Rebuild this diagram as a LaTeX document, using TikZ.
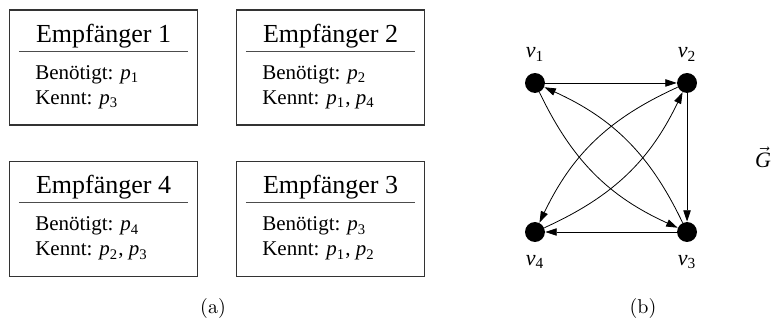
\documentclass[tikz,border=0pt]{standalone}
\usepackage{fontspec}
\usepackage{tikz}
\usetikzlibrary{arrows.meta,positioning}
\newfontfamily\tms{Liberation Serif}
\newcommand{\pidx}[1]{\textit{p}\textsubscript{#1}}
\newcommand{\vidx}[1]{\textit{v}\textsubscript{#1}}
\tikzset{
  rbox/.style={draw=black!80,line width=0.6pt,minimum width=3.304cm,minimum height=2.021cm,inner sep=0pt},
  rtitle/.style={font=\tms\fontsize{13}{15}\selectfont,inner sep=0pt,anchor=base},
  rtext/.style={font=\tms\fontsize{10.5}{12}\selectfont,inner sep=0pt,anchor=base west},
  rrule/.style={draw=black!70,line width=0.5pt},
  vtx/.style={circle,fill=black,minimum size=0.35cm,inner sep=0pt},
  vlbl/.style={font=\tms\fontsize{11}{13}\selectfont,inner sep=0pt,anchor=base},
  arr/.style={-{Triangle[length=2mm,width=1.3mm]},line width=0.4pt},
}
\begin{document}
\begin{tikzpicture}[x=1cm,y=1cm]
  \useasboundingbox (0,0) rectangle (13.566,5.623);
  % (a) the four receivers
  \foreach \nm/\bx/\by/\num/\need/\know in {
      r1/1.819/4.437/1/{\pidx{1}}/{\pidx{3}},
      r2/5.808/4.437/2/{\pidx{2}}/{\pidx{1}, \pidx{4}},
      r4/1.819/1.775/4/{\pidx{4}}/{\pidx{2}, \pidx{3}},
      r3/5.808/1.775/3/{\pidx{3}}/{\pidx{1}, \pidx{2}}}{
    \node[rbox] (\nm) at (\bx,\by) {};
    \node[rtitle] (\nm-t) at ([yshift=-0.58cm]\nm.north) {Empfänger \num};
    \draw[rrule] ([xshift=0.176cm,yshift=-0.738cm]\nm.north west) -- ([xshift=-0.176cm,yshift=-0.738cm]\nm.north east);
    \node[rtext] (\nm-a) at ([xshift=0.457cm,yshift=-1.23cm]\nm.north west) {Benötigt: \need};
    \node[rtext] (\nm-b) at ([xshift=0.457cm,yshift=-1.669cm]\nm.north west) {Kennt: \know};
  }
  \node (capa) at (3.743,0.193) {(a)};
  % (b) the graph
  \node[vtx] (v1) at (9.401,4.165) {};
  \node[vtx] (v2) at (12.073,4.165) {};
  \node[vtx] (v3) at (12.073,1.546) {};
  \node[vtx] (v4) at (9.401,1.546) {};
  \node[vlbl] (l1) at ([yshift=0.439cm]v1.center) {\vidx{1}};
  \node[vlbl] (l2) at ([yshift=0.439cm]v2.center) {\vidx{2}};
  \node[vlbl] (l3) at ([yshift=-0.58cm]v3.center) {\vidx{3}};
  \node[vlbl] (l4) at ([yshift=-0.58cm]v4.center) {\vidx{4}};
  \draw[arr] (v1) -- (v2);
  \draw[arr] (v2) -- (v3);
  \draw[arr] (v3) -- (v4);
  \draw[arr] (v1) to[bend right=20] (v3);
  \draw[arr] (v3) to[bend right=20] (v1);
  \draw[arr] (v2) to[bend right=20] (v4);
  \draw[arr] (v4) to[bend right=20] (v2);
  \node[font=\tms\fontsize{11}{13}\selectfont,inner sep=0pt] (gname) at (13.408,2.856) {$\vec{\hbox{\tms\fontsize{11}{13}\selectfont\itshape G}}$};
  \node (capb) at (11.300,0.193) {(b)};
\end{tikzpicture}
\end{document}
